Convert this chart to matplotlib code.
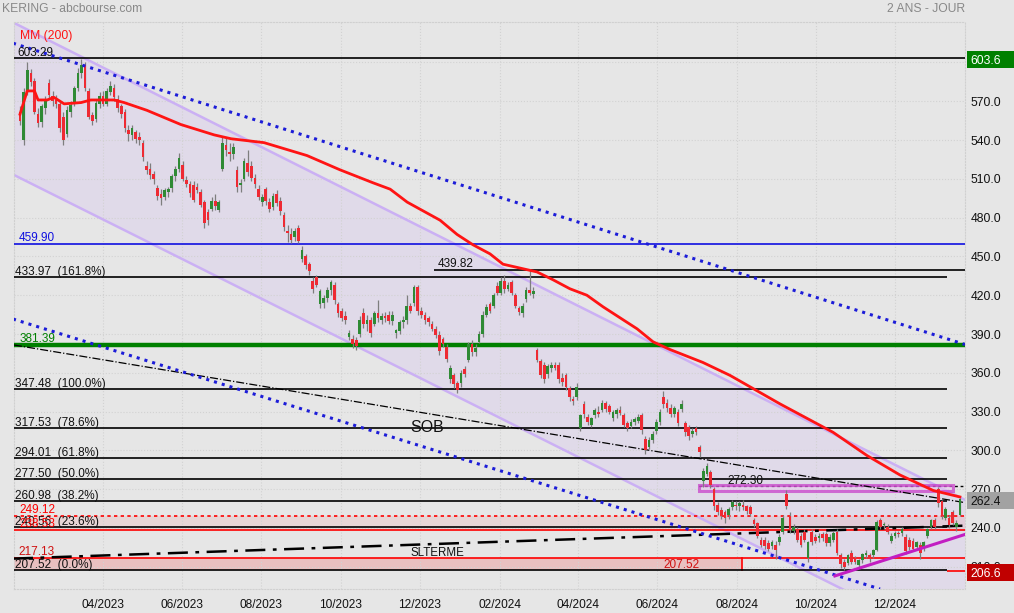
import numpy as np
import pandas as pd
import matplotlib
matplotlib.use("Agg")
import matplotlib.pyplot as plt
from matplotlib.patches import Rectangle

# one candle per two sessions, end of Jan 2023 -> Jan 2025
opens = [562, 540, 578, 592, 586, 560, 554, 565, 584, 574,
         571, 568, 558, 545, 562, 568, 580, 592, 598, 578,
         559, 556, 568, 574, 568, 577, 580, 572, 566, 562,
         548, 544, 546, 542, 538, 520, 518, 514, 503, 498,
         496, 500, 503, 512, 518, 521, 509, 506, 505, 504,
         500, 492, 484, 487, 493, 486, 518, 536, 531, 529,
         517, 505, 510, 522, 520, 511, 502, 492, 502, 492,
         488, 498, 493, 482, 470, 467, 465, 472, 448, 450,
         444, 431, 434, 413, 414, 418, 424, 428, 413, 408,
         404, 388, 386, 385, 390, 406, 398, 401, 398, 406,
         401, 404, 405, 400, 391, 392, 399, 401, 412, 414,
         426, 408, 405, 402, 398, 394, 389, 386, 380, 355,
         358, 352, 352, 363, 370, 382, 376, 384, 390, 405,
         413, 412, 427, 422, 431, 425, 430, 420, 410, 406,
         417, 424, 421, 378, 369, 366, 359, 364, 366, 366,
         356, 358, 348, 340, 341, 317, 336, 326, 320, 327,
         330, 331, 337, 334, 325, 328, 331, 327, 321, 319,
         322, 323, 327, 309, 303, 308, 315, 322, 341, 337,
         333, 328, 330, 332, 321, 318, 313, 317, 303, 276,
         282, 283, 270, 258, 254, 252, 250, 256, 258, 257,
         258, 257, 256, 246, 244, 231, 231, 228, 226, 227,
         229, 237, 266, 249, 238, 239, 234, 237, 217, 237,
         233, 232, 235, 235, 228, 231, 237, 219, 214, 213,
         221, 217, 211, 215, 219, 219, 219, 223, 246, 242,
         241, 230, 234, 236, 236, 233, 231, 230, 225, 227,
         224, 234, 241, 246, 270, 261, 248, 248, 252, 241,
         250]
highs = [566, 580, 600, 595, 588, 565, 568, 574, 587, 578,
         575, 570, 562, 566, 570, 582, 596, 603, 600, 580,
         562, 572, 577, 578, 580, 586, 583, 575, 568, 564,
         552, 552, 548, 546, 540, 524, 522, 516, 505, 502,
         503, 504, 514, 520, 530, 524, 512, 508, 508, 507,
         502, 494, 487, 496, 498, 494, 542, 542, 538, 538,
         520, 510, 526, 532, 524, 514, 505, 498, 504, 495,
         499, 501, 496, 484, 474, 472, 472, 474, 458, 452,
         446, 434, 436, 425, 420, 426, 432, 430, 415, 410,
         408, 393, 389, 388, 404, 410, 405, 403, 408, 416,
         406, 407, 408, 408, 394, 401, 404, 420, 414, 428,
         428, 411, 407, 404, 400, 396, 392, 388, 382, 366,
         360, 354, 362, 365, 384, 385, 382, 392, 408, 413,
         415, 422, 430, 434, 436, 430, 432, 422, 412, 414,
         426, 440, 426, 379, 371, 368, 367, 368, 368, 368,
         360, 360, 350, 342, 352, 328, 338, 328, 326, 333,
         334, 339, 338, 336, 331, 333, 334, 329, 323, 324,
         326, 328, 329, 311, 310, 315, 324, 332, 346, 340,
         336, 334, 332, 339, 323, 320, 317, 319, 304, 286,
         290, 285, 272, 260, 256, 254, 256, 262, 261, 261,
         262, 258, 258, 248, 245, 233, 233, 231, 231, 230,
         235, 250, 269, 252, 243, 241, 236, 239, 230, 239,
         235, 236, 237, 237, 235, 238, 239, 221, 216, 220,
         223, 218, 216, 221, 223, 221, 224, 246, 248, 245,
         243, 236, 238, 238, 241, 235, 233, 232, 230, 229,
         230, 240, 247, 248, 272, 262, 256, 250, 254, 246,
         263]
lows = [552, 536, 575, 582, 560, 550, 550, 560, 572, 566,
        565, 546, 536, 542, 558, 566, 578, 588, 578, 556,
        552, 554, 565, 566, 566, 575, 570, 562, 557, 546,
        539, 540, 538, 536, 524, 514, 510, 506, 494, 490,
        494, 496, 500, 508, 515, 508, 504, 496, 492, 499,
        488, 472, 474, 485, 486, 484, 516, 528, 524, 525,
        500, 500, 508, 512, 508, 503, 494, 489, 490, 484,
        486, 489, 482, 470, 461, 460, 462, 460, 446, 440,
        436, 422, 426, 410, 410, 415, 420, 413, 403, 400,
        398, 385, 379, 378, 388, 395, 392, 388, 396, 399,
        398, 399, 398, 397, 387, 390, 395, 398, 406, 412,
        405, 402, 398, 396, 392, 387, 374, 380, 368, 352,
        348, 344, 349, 357, 368, 373, 373, 383, 388, 403,
        406, 410, 420, 420, 422, 423, 420, 410, 405, 403,
        415, 420, 418, 368, 356, 352, 356, 361, 362, 352,
        350, 347, 338, 335, 339, 315, 325, 320, 318, 325,
        326, 330, 330, 328, 323, 325, 327, 318, 315, 317,
        320, 321, 313, 297, 301, 306, 313, 320, 333, 330,
        326, 326, 319, 330, 311, 308, 310, 312, 295, 272,
        280, 271, 254, 250, 247, 244, 247, 254, 254, 253,
        254, 251, 249, 241, 232, 225, 224, 222, 224, 216,
        227, 235, 255, 236, 235, 229, 225, 229, 214, 227,
        228, 229, 230, 226, 226, 229, 219, 209, 207.5, 211,
        212, 212, 209, 213, 217, 214, 217, 222, 239, 239,
        235, 228, 232, 233, 234, 220, 223, 222, 223, 216,
        222, 232, 239, 239, 256, 247, 246, 240, 242, 238,
        249]
closes = [555, 577, 594, 585, 562, 553, 566, 571, 575, 570,
          568, 549, 540, 563, 567, 580, 592, 598, 580, 558,
          555, 569, 574, 568, 578, 582, 573, 565, 560, 549,
          545, 549, 541, 540, 527, 517, 513, 510, 497, 495,
          501, 502, 512, 518, 526, 510, 506, 499, 494, 501,
          490, 476, 478, 493, 489, 492, 538, 532, 529, 535,
          504, 507, 524, 515, 511, 506, 496, 496, 493, 487,
          497, 491, 485, 473, 468, 463, 470, 462, 455, 443,
          439, 425, 428, 423, 418, 424, 430, 416, 406, 402,
          401, 391, 382, 381, 401, 398, 401, 391, 406, 402,
          404, 402, 400, 405, 393, 399, 401, 412, 408, 426,
          408, 405, 401, 399, 394, 389, 377, 382, 371, 364,
          351, 347, 360, 359, 382, 376, 379, 390, 405, 411,
          408, 420, 422, 431, 425, 428, 422, 412, 407, 412,
          424, 422, 423, 370, 358, 355, 365, 366, 364, 355,
          353, 349, 341, 338, 349, 327, 328, 322, 325, 331,
          328, 337, 332, 330, 330, 331, 329, 320, 317, 322,
          324, 326, 316, 300, 308, 313, 322, 330, 336, 333,
          328, 333, 321, 336, 314, 311, 315, 314, 299, 284,
          288, 273, 257, 252, 249, 248, 255, 260, 257, 259,
          256, 253, 251, 243, 234, 227, 226, 224, 229, 223,
          233, 248, 257, 239, 241, 231, 227, 231, 229, 229,
          230, 234, 232, 228, 233, 236, 221, 212, 210, 219,
          214, 214, 215, 220, 221, 216, 223, 245, 241, 243,
          237, 234, 236, 235, 239, 222, 225, 224, 229, 221,
          229, 239, 246, 241, 259, 249, 255, 242, 244, 244,
          262.4]

first_day = pd.Timestamp("2023-01-27")
last_day = pd.Timestamp("2025-01-20")
month_ticks = pd.date_range("2023-04-01", "2024-12-01", freq="2MS")

# MM(200) (candle position, value)
ma_pos = [0, 2, 4, 5, 7.5, 9.4, 12.2, 16.9, 19.6, 26, 28.8, 35.1, 44.5,
          53.7, 58.4, 67.5, 79.4, 88.5, 97.6, 102.4, 107.1, 116.2, 120.9,
          125.3, 130, 133.6, 143, 147.4, 152.1, 156.8, 161.3, 170.7, 175.1,
          179.8, 188.9, 196.4, 210.2, 224.9, 234.3, 243.4, 252.6, 260]
ma_val = [560, 578, 578, 571, 571, 573, 568, 569, 571, 571, 569, 563, 552,
          544, 541, 538, 528, 517, 507, 502, 492, 478, 467,
          459, 452, 444, 438, 432, 425, 420, 411, 394, 384,
          378, 368, 358, 336, 314, 296, 281, 269, 264]

fib_levels = [433.97, 347.48, 317.53, 294.01, 277.50, 260.98, 240.56, 207.52]
fib_pcts = ["161.8%", "100.0%", "78.6%", "61.8%", "50.0%", "38.2%", "23.6%", "0.0%"]

high_level = 603.29
blue_level = 459.90
green_level = 381.39
peak_level = 439.82
res_level = 272.30
band_hi, band_lo = 249.12, 238.53
box_hi, box_lo = 217.13, 207.52

last_price = closes[-1]
period_max, period_min = 603.6, 206.6

BG = "#e6e6e6"
RED = "#ee2a33"
GREEN = "#2f8a35"
MAGENTA = "#c21ec2"

plt.rcParams["font.family"] = ["Liberation Sans", "DejaVu Sans"]

W, H = 1014, 613
fig = plt.figure(figsize=(W / 100, H / 100), dpi=100, facecolor=BG)
ax = fig.add_axes([14 / W, 1 - 589 / H, 951 / W, 567 / H], facecolor=BG)

n = len(closes)
x = np.arange(n)
o, hi, lo, c = (np.array(v, dtype=float) for v in (opens, highs, lows, closes))
xmin, xmax = -1.66, 261.4
x_fib_end = 256.4

# trend channel (lavender) with light fill
ch_x = np.array([xmin, xmax])
ch_top = np.array([630.6, 261.7])
ch_bot = np.array([513.0, 145.3])
ax.fill_between(ch_x, ch_bot, ch_top, color="#d7c6f0", alpha=0.35, lw=0, zorder=1)
ax.plot(ch_x, ch_top, color="#cbb0f4", lw=1.8, zorder=2)
ax.plot(ch_x, ch_bot, color="#cbb0f4", lw=1.8, zorder=2)

# blue dotted channel
ax.plot([-1.94, 261.4], [614.9, 381.9], color="#1c1cd8", lw=2.2, ls=":", zorder=5)
ax.plot([-1.94, 237.9], [401.6, 192.8], color="#1c1cd8", lw=2.2, ls=":", zorder=5)

# pink zones
ax.add_patch(Rectangle((xmin, band_lo), xmax - xmin, band_hi - band_lo,
                       facecolor="#f08a8a", alpha=0.18, lw=0, zorder=1))
ax.add_patch(Rectangle((xmin, box_lo), 199.7 - xmin, box_hi - box_lo,
                       facecolor="#f07a7a", alpha=0.35, edgecolor="none", zorder=1))
ax.plot([199.7, 199.7], [box_lo, box_hi], color="red", lw=1.2, zorder=3)
ax.hlines(box_hi, xmin, xmax, color="red", lw=1.2, zorder=3)
ax.hlines(band_hi, xmin, xmax, color="red", lw=1.2, ls=(0, (2, 2)), zorder=3)
ax.hlines(band_lo, xmin, xmax, color="red", lw=1.2, zorder=3)

# horizontal levels
ax.hlines(high_level, xmin, xmax, color="black", lw=1.2, zorder=3)
ax.hlines(blue_level, xmin, xmax, color="#1010e0", lw=1.2, zorder=3)
ax.hlines(green_level, xmin, xmax, color="#008000", lw=3.2, zorder=3)
ax.hlines(peak_level, 114.5, xmax, color="black", lw=1.2, zorder=3)
ax.hlines(fib_levels, xmin, x_fib_end, color="black", lw=1.2, zorder=3)
ax.hlines(period_min, x_fib_end, xmax, color="red", lw=1.2, zorder=3)
ax.hlines(res_level, 187.8, xmax, color="black", lw=1.0, ls=(0, (2, 2)), zorder=3)
ax.add_patch(Rectangle((187.8, 268.8), 258.1 - 187.8, 273.3 - 268.8,
                       facecolor="#e9c9ee", alpha=0.6, edgecolor=MAGENTA, lw=2.2, zorder=3))

# oblique lines
ax.plot([xmin, xmax], [381.5, 259.6], color="black", lw=0.9, ls="-.", zorder=3)
ax.plot([-1.94, xmax], [216.3, 241.8], color="black", lw=1.8,
        ls=(0, (8, 3, 1.5, 3)), zorder=3)
ax.plot([225.4, xmax], [202.9, 235.0], color=MAGENTA, lw=2.2, zorder=5)

# candles
up = c >= o
ax.vlines(x, lo, hi, color="#7e7e7e", lw=0.9, zorder=4)
ax.bar(x, np.maximum(np.abs(c - o), 0.8), bottom=np.minimum(o, c), width=0.74,
       color=np.where(up, GREEN, RED), lw=0, zorder=4)

ax.plot(ma_pos, ma_val, color="#ff1414", lw=2.0, zorder=6)

# labels on levels
ytr = ax.get_yaxis_transform()
lab = dict(xycoords=ytr, textcoords="offset points", va="baseline", fontsize=8.5, zorder=7)
for lvl, pct in zip(fib_levels, fib_pcts):
    ax.annotate(f"{lvl:.2f}  ({pct})", xy=(0.001, lvl), xytext=(0, 1.5), color="#111111", **lab)
ax.annotate(f"{high_level:.2f}", xy=(0.004, high_level), xytext=(0, 1.5), color="#111111", **lab)
ax.annotate(f"{blue_level:.2f}", xy=(0.005, blue_level), xytext=(0, 2), color="#1010e0", **lab)
ax.annotate(f"{green_level:.2f}", xy=(0.006, green_level), xytext=(0, 2), color="#008000", **lab)
ax.annotate(f"{band_hi:.2f}", xy=(0.006, band_hi), xytext=(0, 2), color="red", **lab)
ax.annotate(f"{band_lo:.2f}", xy=(0.006, band_lo), xytext=(0, 2), color="red", **lab)
ax.annotate(f"{box_hi:.2f}", xy=(0.005, box_hi), xytext=(0, 2), color="#d01010", **lab)
ax.text(188.0, box_lo + 1.2, f"{box_lo:.2f}", color="#d01010", fontsize=8.5, ha="right", va="baseline", zorder=7)
ax.text(115.5, peak_level + 1.8, f"{peak_level:.2f}", color="#111111", fontsize=8.5, va="baseline", zorder=7)
ax.text(195.6, res_level + 1.8, f"{res_level:.2f}", color="#111111", fontsize=8.5, va="baseline", zorder=7)
ax.text(108, 314.5, "SOB", color="#111111", fontsize=11.5, va="baseline", zorder=7)
ax.text(108, 218.5, "SLTERME", color="#111111", fontsize=8.3, va="baseline", zorder=7)
ax.text(0.006, 0.975, "MM (200)", color="#ff1414", fontsize=8.7, transform=ax.transAxes, va="center")

# axes
ax.set_xlim(xmin, xmax)
ax.set_ylim(192.8, 631.3)
span = (last_day - first_day).days
tick_pos = [(d - first_day).days / span * (n - 1) for d in month_ticks]
ax.set_xticks(tick_pos)
ax.set_xticklabels([d.strftime("%m/%Y") for d in month_ticks], fontsize=8.6)
yt = np.arange(210, 601, 30)
ax.set_yticks(yt)
ax.set_yticklabels([f"{v:.1f}" if v < 600 else "" for v in yt], fontsize=8.7)
ax.yaxis.tick_right()
ax.tick_params(length=0, colors="#111111")
ax.tick_params(axis="x", pad=7)
ax.tick_params(axis="y", pad=4)
ax.grid(True, color="#d2d2d2", ls=":", lw=0.8, zorder=0)
for s in ax.spines.values():
    s.set_color("#d0d0d0")
    s.set_linestyle(":")


def side_box(y0, y1, text, face, tcolor):
    fig.add_artist(Rectangle((967 / W, 1 - y1 / H), 47 / W, (y1 - y0) / H,
                             transform=fig.transFigure, facecolor=face, lw=0))
    fig.text(970 / W, 1 - (y0 + y1) / 2 / H, text, color=tcolor, fontsize=8.7, va="center_baseline")


side_box(51, 68, f"{period_max:.1f}", "#008000", "white")
side_box(492, 509, f"{last_price:.1f}", "#a2a2a2", "#111111")
side_box(564, 581, f"{period_min:.1f}", "#c00000", "white")

fig.text(2 / W, 1 - 9 / H, "KERING - abcbourse.com", color="#888888", fontsize=8.7, va="center")
fig.text(965 / W, 1 - 9 / H, "2 ANS - JOUR", color="#888888", fontsize=8.7, va="center", ha="right")

fig.savefig("out.png", dpi=100, facecolor=BG)
